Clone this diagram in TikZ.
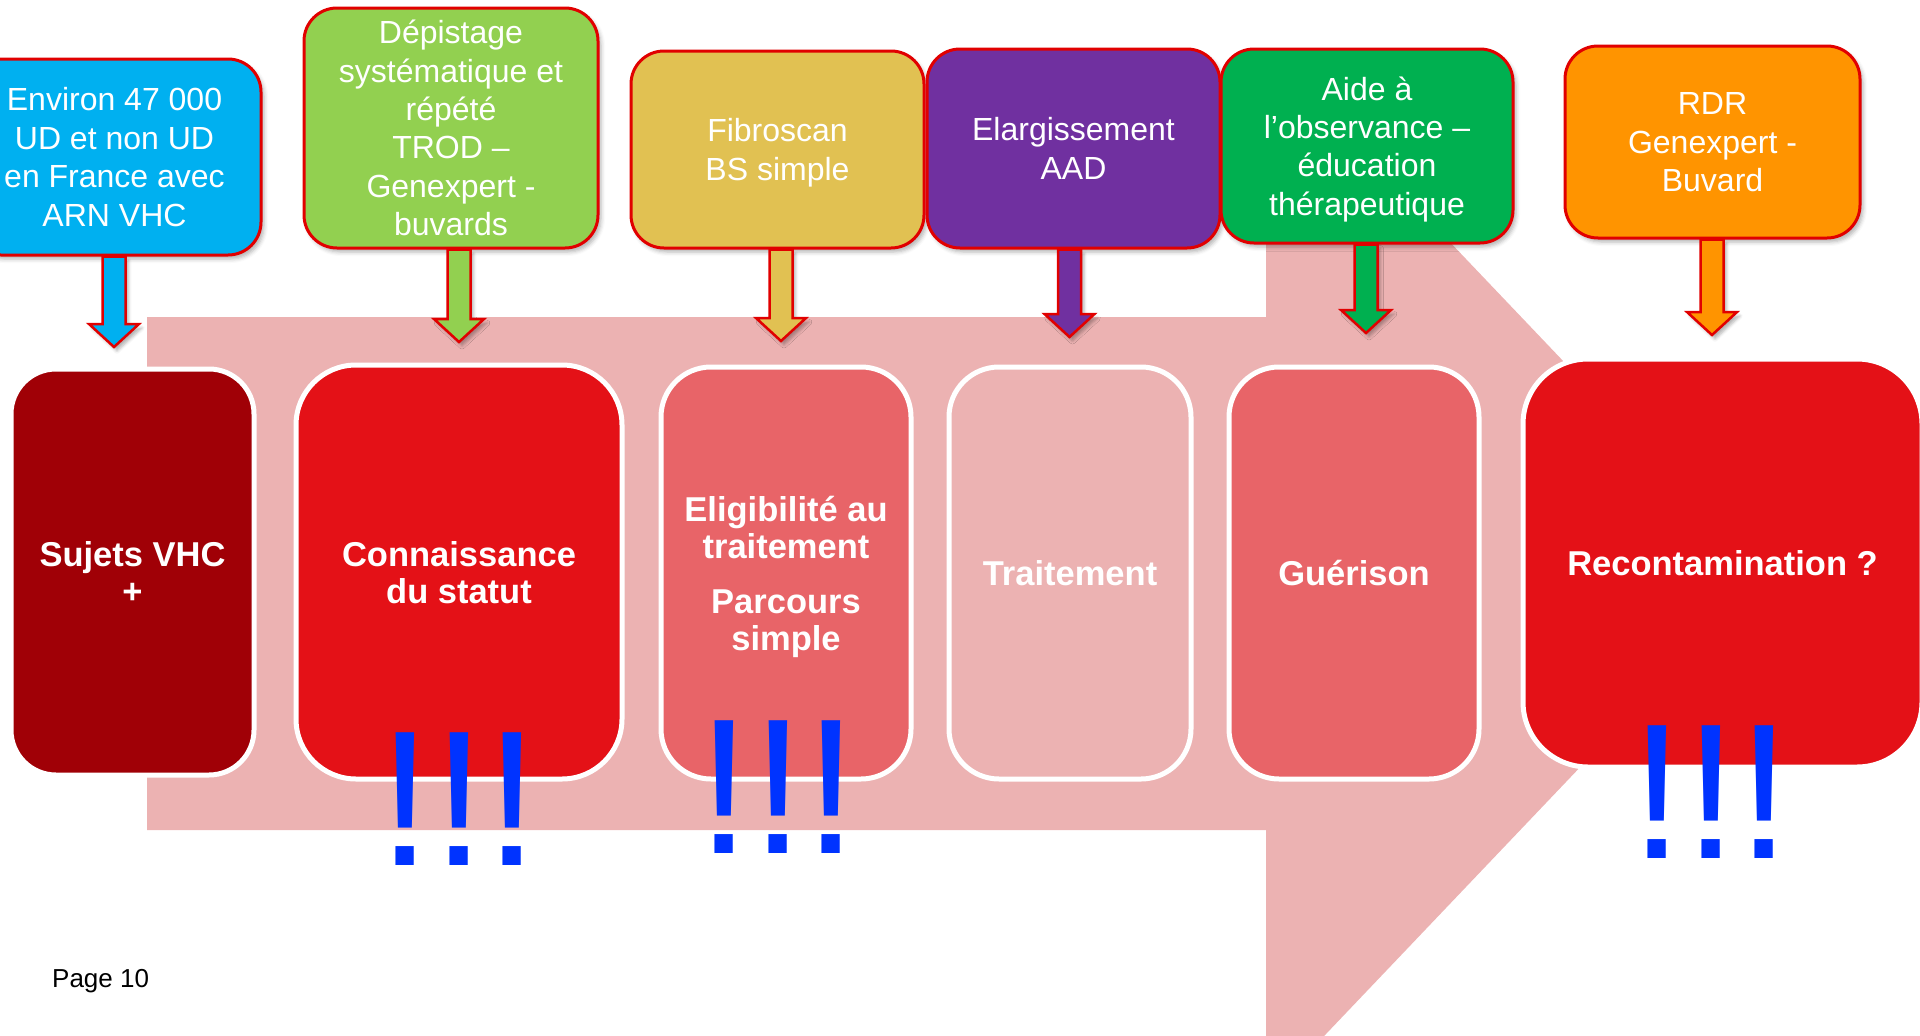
\documentclass[tikz,border=0pt]{standalone}
\usepackage{fontspec}
\setmainfont{Liberation Sans}
\usetikzlibrary{calc, shadows.blur}

\definecolor{boxred}{RGB}{225,0,0}
\definecolor{bandpink}{RGB}{236,178,178}
\definecolor{envblue}{RGB}{0,176,240}
\definecolor{deplime}{RGB}{146,208,80}
\definecolor{fibyellow}{RGB}{225,193,82}
\definecolor{elarpurple}{RGB}{112,48,160}
\definecolor{aidegreen}{RGB}{0,176,80}
\definecolor{rdrorange}{RGB}{255,148,0}
\definecolor{sujdark}{RGB}{160,0,6}
\definecolor{stepred}{RGB}{228,17,23}
\definecolor{stepsalmon}{RGB}{232,100,104}
\definecolor{exblue}{RGB}{0,51,255}

\begin{document}
\begin{tikzpicture}[x=1pt, y=-1pt, every node/.style={align=center, text=white, inner sep=0pt},
	topbox/.style={draw=boxred, line width=3pt, rounded corners=33pt, minimum width=293pt,
		text depth=0pt, font=\fontsize{32}{38.4}\selectfont,
		blur shadow={shadow xshift=3pt, shadow yshift=-4pt, shadow blur radius=4pt, shadow opacity=30}},
	stepbox/.style={draw=white, line width=5pt, text depth=0pt, font=\bfseries\fontsize{34.5}{37}\selectfont},
	fatarrow/.style={draw=boxred, line width=2.5pt,
		blur shadow={shadow xshift=3pt, shadow yshift=-4pt, shadow blur radius=3pt, shadow opacity=30},
		to path={let \p1=(\tikztostart), \p2=(\tikztotarget) in
			(\x2-11.5pt,\y1) -- (\x2-11.5pt,\y2+23pt) -- (\x2-25pt,\y2+23pt) -- (\tikztotarget)
			-- (\x2+25pt,\y2+23pt) -- (\x2+11.5pt,\y2+23pt) -- (\x2+11.5pt,\y1) -- cycle}},
	excl/.style={text=exblue, anchor=base, font=\fontsize{193}{193}\selectfont}]
			\clip (0,0) rectangle (1920,1036);
			\fill[bandpink] (147,317) -- (1266,317) -- (1266,49) -- (1765,573) -- (1266,1097)
				-- (1266,830) -- (147,830) -- cycle;

			\node[stepbox, fill=sujdark, rounded corners=45pt, minimum width=243pt, minimum height=406pt] (suj) at (132.5,572) {Sujets VHC\\+};
			\node[stepbox, fill=stepred, rounded corners=60pt, minimum width=326pt, minimum height=414pt] (conn) at (459,572) {Connaissance\\du statut};
			\node[stepbox, fill=stepsalmon, rounded corners=50pt, minimum width=250pt, minimum height=412pt] (elig) at (786,573) {Eligibilité au\\traitement\\[18pt]Parcours\\simple};
			\node[stepbox, fill=bandpink, rounded corners=50pt, minimum width=242pt, minimum height=412pt] (trait) at (1070,573) {Traitement};
			\node[stepbox, fill=stepsalmon, rounded corners=50pt, minimum width=250pt, minimum height=412pt] (guer) at (1354,573) {Guérison};
			\node[stepbox, fill=stepred, rounded corners=65pt, minimum width=399pt, minimum height=408pt] (recon) at (1722.5,563) {Recontamination ?};

			\node[topbox, fill=envblue, minimum height=196pt] (env) at (114.5,157) {Environ 47 000\\UD et non UD\\en France avec\\ARN VHC};
			\node[topbox, fill=deplime, minimum width=294pt, minimum height=240pt] (dep) at (451,128) {Dépistage\\systématique et\\répété\\TROD –\\Genexpert -\\buvards};
			\node[topbox, fill=fibyellow, minimum height=197pt] (fib) at (777.5,149.5) {Fibroscan\\BS simple};
			\node[topbox, fill=elarpurple, minimum height=199pt] (elar) at (1073.5,148.5) {Elargissement\\AAD};
			\node[topbox, fill=aidegreen, minimum width=292pt, minimum height=194pt] (aide) at (1367,146) {Aide à\\l’observance –\\éducation\\thérapeutique};
			\node[topbox, fill=rdrorange, minimum width=295pt, minimum height=192pt] (rdr) at (1712.5,142) {RDR\\Genexpert -\\Buvard};

			\coordinate (envtip) at (114,347);
			\coordinate (deptip) at (459,342);
			\coordinate (fibtip) at (781,341);
			\coordinate (elartip) at (1069.5,337);
			\coordinate (aidetip) at (1366,333);
			\coordinate (rdrtip) at (1712,335);

			\draw[fatarrow, fill=envblue] (env.south) to (envtip);
			\draw[fatarrow, fill=deplime] (dep.south) to (deptip);
			\draw[fatarrow, fill=fibyellow] (fib.south) to (fibtip);
			\draw[fatarrow, fill=elarpurple] (elar.south) to (elartip);
			\draw[fatarrow, fill=aidegreen] (aide.south) to (aidetip);
			\draw[fatarrow, fill=rdrorange] (rdr.south) to (rdrtip);

			\node[excl] (connex) at (459,865) {!!!};
			\node[excl] (eligex) at (778,853) {!!!};
			\node[excl] (reconex) at (1711,858) {!!!};

			\node[text=black, anchor=base west, font=\fontsize{26}{31}\selectfont] (page) at (52,987) {Page 10};
		\end{tikzpicture}
\end{document}
